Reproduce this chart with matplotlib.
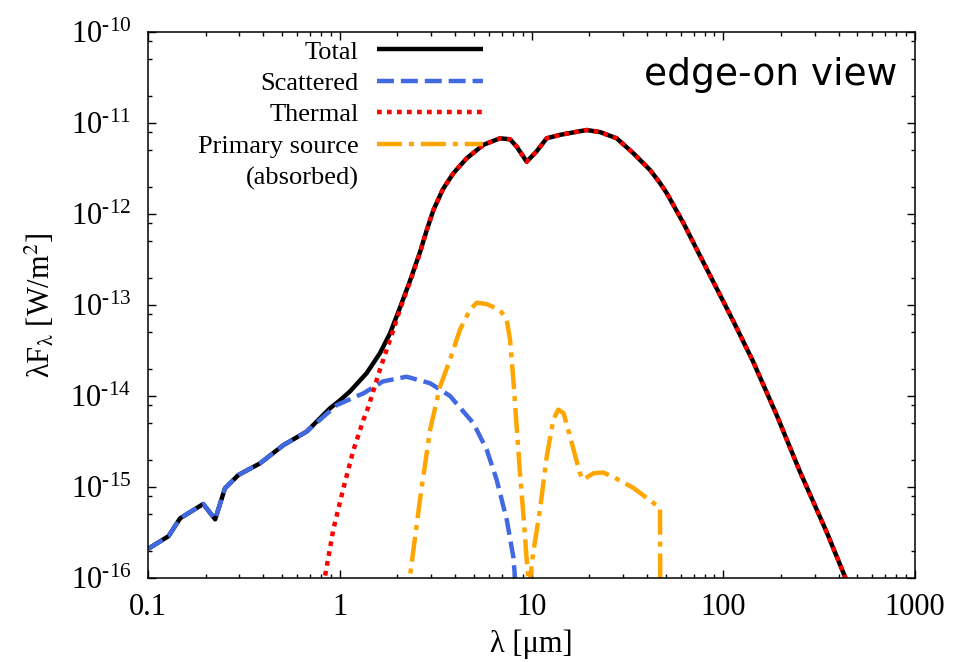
import numpy as np
import matplotlib
matplotlib.use("Agg")
import matplotlib.pyplot as plt
from matplotlib.ticker import LogLocator, FuncFormatter, NullFormatter
from matplotlib.lines import Line2D

# Spectral energy distribution, edge-on view.
# Wavelengths in micron, fluxes as log10(lambda F_lambda / (W m^-2)).
scat_wl = [0.1, 0.128, 0.147, 0.194, 0.224, 0.252, 0.296, 0.384, 0.508, 0.673,
           0.964, 1.33, 1.68, 2.23, 2.96, 3.76, 4.98, 5.84, 6.58, 7.43, 8.04,
           8.2, 8.4]
scat_logf = [-15.68, -15.54, -15.344, -15.187, -15.355, -15.014, -14.868, -14.74,
             -14.54, -14.39, -14.10, -13.97, -13.84, -13.788, -13.86, -14.0,
             -14.30, -14.59, -14.92, -15.36, -15.77, -15.99, -16.3]

therm_wl = [0.80, 0.838, 0.925, 1.04, 1.18, 1.33, 1.41, 1.62, 1.83, 2.06, 2.32,
            2.62, 2.84, 3.08, 3.45, 3.91, 4.59, 5.61, 6.85, 7.73, 8.37, 9.44,
            10.6, 12.0, 14.1, 15.9, 19.4, 22.8, 27.8, 34.0, 41.5, 46.8, 50.7,
            62.0, 75.7, 100, 113, 143, 190, 251, 347, 434, 480]
therm_logf = [-16.3, -15.98, -15.47, -15.03, -14.59, -14.26, -14.12, -13.71,
              -13.38, -13.05, -12.75, -12.43, -12.18, -11.956, -11.728, -11.553,
              -11.388, -11.24, -11.168, -11.179, -11.26, -11.425, -11.315,
              -11.168, -11.13, -11.11, -11.077, -11.10, -11.168, -11.333,
              -11.516, -11.66, -11.77, -12.10, -12.46, -12.96, -13.18, -13.62,
              -14.21, -14.83, -15.50, -16.0, -16.28]

total_wl = [0.1, 0.128, 0.147, 0.194, 0.224, 0.252, 0.296, 0.384, 0.508, 0.673,
            0.889, 1.0, 1.13, 1.38, 1.62, 1.83, 2.06, 2.32, 2.62, 2.84, 3.08,
            3.45, 3.91, 4.59, 5.61, 6.85, 7.73, 8.37, 9.44, 10.6, 12.0, 14.1,
            15.9, 19.4, 22.8, 27.8, 34.0, 41.5, 46.8, 50.7, 62.0, 75.7, 100,
            113, 143, 190, 251, 347, 434, 480]
total_logf = [-15.68, -15.54, -15.344, -15.187, -15.355, -15.014, -14.868, -14.74,
              -14.54, -14.39, -14.135, -14.05, -13.95, -13.75, -13.53, -13.31,
              -13.03, -12.74, -12.42, -12.18, -11.956, -11.728, -11.553, -11.388,
              -11.24, -11.168, -11.179, -11.26, -11.425, -11.315, -11.168,
              -11.13, -11.11, -11.077, -11.10, -11.168, -11.333, -11.516,
              -11.66, -11.77, -12.10, -12.46, -12.96, -13.18, -13.62, -14.21,
              -14.83, -15.50, -16.0, -16.28]

prim_wl = [2.25, 2.32, 2.62, 2.96, 3.33, 3.76, 4.24, 4.78, 5.18, 5.84, 6.85,
           7.43, 7.73, 8.04, 8.37, 8.71, 9.06, 9.44, 9.73, 10.2, 11.07, 12.0,
           13.0, 13.8, 14.7, 15.9, 17.9, 18.6, 21.0, 23.6, 26.7, 34.0, 46.8, 47.0]
prim_logf = [-16.3, -15.99, -15.14, -14.37, -13.90, -13.60, -13.27, -13.05,
             -12.975, -12.99, -13.055, -13.165, -13.385, -13.82, -14.34, -14.85,
             -15.29, -15.80, -16.1, -15.73, -15.25, -14.67, -14.26, -14.15,
             -14.19, -14.45, -14.85, -14.92, -14.85, -14.84, -14.89, -15.01,
             -15.23, -16.5]

x_ticks = [0.1, 1, 10, 100, 1000]
y_tick_exponents = [-16, -15, -14, -13, -12, -11, -10]

plt.rcParams['font.family'] = ['Liberation Serif', 'DejaVu Serif']
plt.rcParams['mathtext.fontset'] = 'stix'
plt.rcParams['lines.scale_dashes'] = False

fig = plt.figure(figsize=(9.59, 6.62), dpi=100)
ax = fig.add_axes([148 / 959, 1 - 578 / 662, 767 / 959, 546 / 662])

lw = 3.2
l_tot, = ax.plot(total_wl, 10 ** np.array(total_logf), color='black', lw=lw,
                 label='Total', solid_capstyle='butt')
l_sca, = ax.plot(scat_wl, 10 ** np.array(scat_logf), color='#4169e1', lw=lw,
                 dashes=(12.2, 5.0), label='Scattered')
l_the, = ax.plot(therm_wl, 10 ** np.array(therm_logf), color='#ff0000', lw=lw,
                 dashes=(3.4, 3.8), label='Thermal')
l_pri, = ax.plot(prim_wl, 10 ** np.array(prim_logf), color='#ffa500', lw=lw,
                 dashes=(18, 5, 3.6, 5), label='Primary source')

ax.set_xscale('log')
ax.set_yscale('log')
ax.set_xlim(0.1, 1000)
ax.set_ylim(1e-16, 1e-10)

ax.set_xticks(x_ticks)
ax.xaxis.set_minor_locator(LogLocator(base=10, subs=np.arange(2, 10)))
ax.xaxis.set_minor_formatter(NullFormatter())
ax.xaxis.set_major_formatter(FuncFormatter(lambda v, p: '%g' % v))

ax.set_yticks([10.0 ** e for e in y_tick_exponents])
ax.yaxis.set_minor_locator(LogLocator(base=10, subs=(2, 5, 8), numticks=10))
ax.yaxis.set_minor_formatter(NullFormatter())
ax.yaxis.set_major_formatter(FuncFormatter(
    lambda v, p: '10$^{\\mathdefault{\u2010%d}}$' % round(-np.log10(v))))

ax.tick_params(which='both', direction='in', top=True, right=True,
               width=1.0, labelsize=22)
ax.tick_params(which='major', length=5.5)
ax.tick_params(which='minor', length=3)
ax.tick_params(axis='x', which='major', pad=11)
ax.tick_params(axis='y', which='major', pad=12)
for s in ax.spines.values():
    s.set_linewidth(1.1)

ax.set_xlabel('λ [μm]', fontsize=22, labelpad=5)
ax.set_ylabel(r'λF$_{\mathrm{λ}}$ [W/m$^{2}$]', fontsize=22, labelpad=10)

blank = Line2D([], [], color='none')
leg = ax.legend([l_tot, l_sca, l_the, l_pri, blank],
                ['Total', 'Scattered', 'Thermal', 'Primary source', '(absorbed)'],
                loc='upper right', bbox_to_anchor=(0.4368, 0.985),
                markerfirst=False, frameon=False, fontsize=19,
                handlelength=4.0, handletextpad=0.72, labelspacing=0.3,
                borderpad=0, borderaxespad=0)

ax.text(0.9765, 0.921, 'edge-on view', transform=ax.transAxes, ha='right',
        va='center', fontsize=27, family='DejaVu Sans')

fig.savefig('out.png', dpi=100)
